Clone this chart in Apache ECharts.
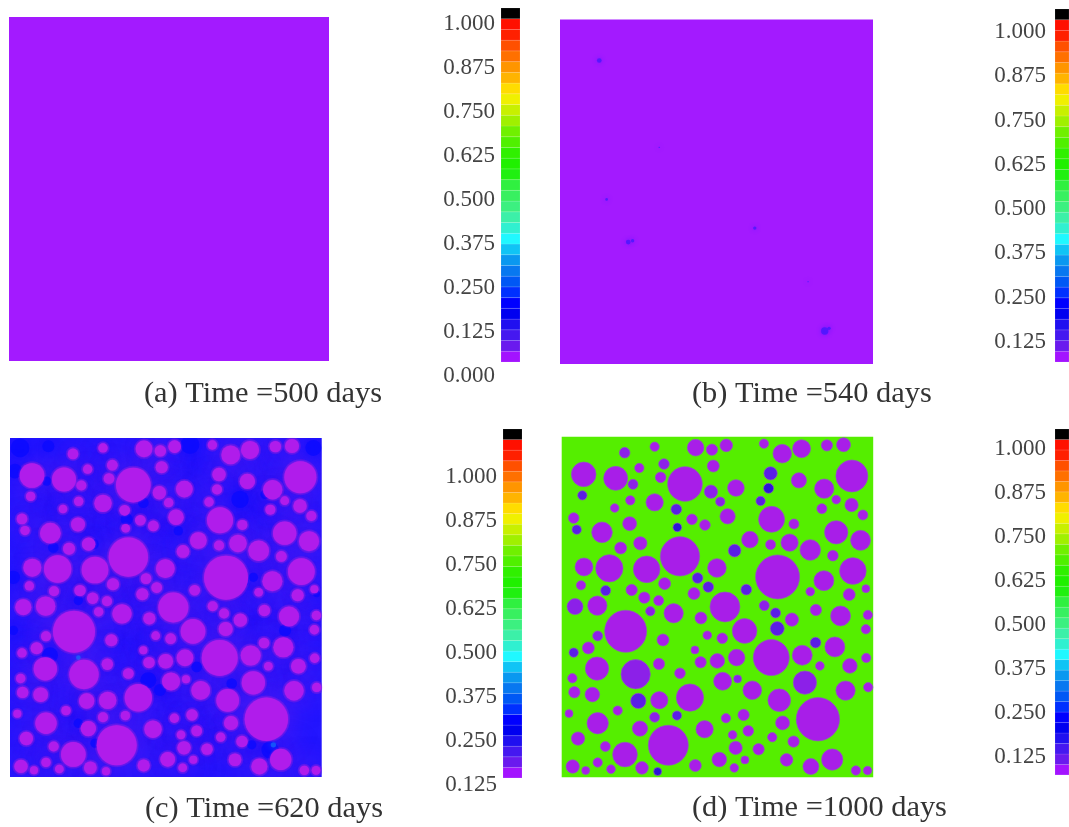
<!DOCTYPE html>
<html><head><meta charset="utf-8">
<style>html,body{margin:0;padding:0;background:#fff}#chart{width:1069px;height:827px;filter:blur(0.6px)}</style>
<script src="https://cdn.jsdelivr.net/npm/echarts@6/dist/echarts.min.js"></script>
</head><body><div id="chart"></div>
<script>
// colour-scale levels, bottom to top
const scaleColors=['#a313ff','#6a1aee','#4518f0','#2010f0','#0000f0','#0000ff','#0030ff','#0058f5','#0878f0','#0a98f0','#10c4f5','#20f8ff','#30f0d0','#3cf0a8','#3cf080','#38f060','#30f040','#20f010','#20f000','#30f000','#50f000','#70f000','#a0f000','#c8f000','#f0f000','#ffdc00','#ffb400','#ff9500','#ff7000','#ff5000','#ff2000','#ff1000','#000000'];
const ticksA=[0,0.125,0.25,0.375,0.5,0.625,0.75,0.875,1];
const ticksB=[0.125,0.25,0.375,0.5,0.625,0.75,0.875,1];
const captions=['(a) Time =500 days','(b) Time =540 days','(c) Time =620 days','(d) Time =1000 days'];
// aggregate particles: x, y, radius, damage shade (0 none .. 3 strong) at 1000 days
const particles=[[314,50,14,0],[224,68,16,1],[437,53,25,0],[486,59,17,0],[529,46,19,0],[642,41,14,0],[697,71,28,0],[755,56,27,0],[831,46,17,0],[881,44,21,0],
[101,133,37,0],[197,145,36,0],[268,114,14,0],[342,102,16,1],[332,142,16,0],[405,162,52,0],[490,108,18,0],[249,163,15,1],[97,196,14,2],[662,130,20,2],[656,175,15,3],[747,151,23,0],[823,176,29,0],[906,138,48,0],[558,174,25,0],[483,185,20,1],[511,215,14,1],[632,213,14,2],[241,211,14,0],[194,234,13,0],[314,217,26,0],[379,238,16,2],[859,209,13,0],[905,225,20,0],[816,236,15,0],[939,255,15,0],
[71,264,16,0],[80,299,14,2],[156,307,31,0],[239,281,21,0],[426,268,16,0],[465,285,16,0],[382,292,13,3],[533,259,23,0],[665,268,39,0],[732,282,15,0],[859,307,35,0],[932,331,30,0],[600,329,25,0],[662,344,15,0],[719,338,26,0],[781,360,31,0],[554,362,19,2],[271,340,20,0],[212,354,18,0],[390,379,59,0],[849,377,16,0],[909,423,40,0],[501,414,28,0],[683,441,66,0],[102,411,27,0],[178,415,41,0],[290,418,40,0],[443,444,16,2],[475,471,16,2],[344,461,18,0],[93,466,14,0],[167,482,15,2],[245,480,17,0],[283,503,17,0],[326,512,15,0],[432,491,18,0],[589,479,16,2],[822,452,30,0],[781,485,13,0],[898,494,18,0],[948,476,12,0],[525,531,45,0],[643,527,15,1],[677,549,15,2],[726,569,20,0],[798,540,17,0],[872,558,30,0],[954,555,14,0],[948,598,14,0],[75,530,24,1],[142,527,29,0],[301,544,14,1],[371,550,29,0],[453,564,18,0],[584,603,37,0],[682,596,21,2],[227,604,63,0],[143,618,15,1],[339,630,18,0],[472,616,13,0],[517,625,16,0],[797,638,16,2],[855,651,30,0],[71,668,14,2],[115,654,18,0],[435,660,12,0],[452,697,17,0],[502,693,22,0],[560,683,25,0],[664,683,54,0],[757,676,30,0],[949,684,14,0],[900,708,22,0],[810,708,13,0],[141,716,35,0],[257,733,44,1],[327,702,17,0],[390,730,16,0],[518,754,27,0],[563,747,12,1],[67,745,14,0],[73,787,17,0],[127,794,22,0],[607,781,28,0],[765,758,35,1],[887,782,29,0],[955,772,14,0],[420,803,41,0],[265,813,23,2],[328,811,26,0],[688,811,34,0],[203,842,14,0],[57,851,12,0],[143,880,32,0],[314,862,15,1],[381,857,14,2],[528,865,14,0],[581,855,17,0],[698,879,21,0],[804,868,65,0],[270,896,23,0],[464,898,26,0],[595,903,16,0],[84,926,20,0],[166,950,15,0],[225,974,37,0],[355,946,60,0],[548,915,13,0],[667,922,14,0],[731,935,17,0],[557,954,20,0],[626,958,17,0],[508,989,22,0],[585,990,12,0],[710,990,19,0],[847,989,32,0],[783,1010,24,0],[68,1010,20,0],[107,1022,12,0],[143,998,14,0],[183,1018,13,0],[276,1014,19,0],[323,1025,12,3],[436,1007,18,0],[553,1014,13,0],[918,1022,14,0],[953,1022,13,0]];
// small damaged spots at 540 days: x, y, radius
const spots540=[[148,151,7],[328,412,2],[170,568,4],[235,696,7],[248,692,5],[615,654,5],[775,815,2],[825,963,11],[838,955,5]];
// lighter spots at 620 days: x, y, radius
const spots620=[[240,682,7],[825,945,8]];
// deeper blue pore-solution patches at 620 days: x, y, radius
const pores620=[[65,50,28],[150,45,18],[575,40,28],[945,50,24],[145,150,14],[45,440,20],[50,120,22],[450,750,24],[730,450,22],[765,440,14],[155,675,24],[240,510,14],[385,265,18],[725,205,26],[800,190,14],[860,600,18],[435,215,16],[285,340,16],[165,350,16],[45,600,14],[595,710,16],[485,780,18],[700,760,16],[815,960,26],[760,945,14],[240,880,14],[290,940,14],[955,490,10],[540,300,14]];

const UNIT=1/3; // pixels per data unit of the specimen axes
const panels=[
 {left:9,top:17,width:320,height:344,xr:[35,1005],yr:[20,1052],bg:'#a31aff'},
 {left:560,top:19.5,width:313,height:344.5,xr:[30,970],yr:[28,1062],bg:'#a31aff'},
 {left:10,top:438,width:311.7,height:339,xr:[35,970],yr:[20,1042],bg:'#2416ff'},
 {left:561.7,top:436.7,width:311.5,height:340.5,xr:[35,970],yr:[20,1042],bg:'#55ee00'}];
const bars=[
 {left:501,width:19,top:8,bottom:376,min:0,max:1.0455,ticks:ticksA,base:0.0398,labelX:6},
 {left:1055,width:15,top:9,bottom:386,min:0,max:1.065,ticks:ticksB,base:0.0678,labelX:9},
 {left:503,width:19,top:429,bottom:785,min:0.125,max:1.1364,ticks:ticksB,base:0.145,labelX:6},
 {left:1055,width:15,top:429,bottom:801,min:0,max:1.0568,ticks:ticksB,base:0.074,labelX:9}];
const capPos=[[144,379],[692,379],[145,794],[692,793]];

const grid=[],xAxis=[],yAxis=[],series=[];
panels.forEach((p,i)=>{
 grid.push({left:p.left,top:p.top,width:p.width,height:p.height,show:true,backgroundColor:p.bg,borderWidth:0});
 xAxis.push({type:'value',gridIndex:i,min:p.xr[0],max:p.xr[1],show:false});
 yAxis.push({type:'value',gridIndex:i,min:p.yr[0],max:p.yr[1],inverse:true,show:false});
});
bars.forEach((b,i)=>{
 const k=i+4;
 grid.push({left:b.left,top:b.top,width:b.width,height:b.bottom-b.top});
 xAxis.push({type:'value',gridIndex:k,min:0,max:1,show:false});
 yAxis.push({type:'value',gridIndex:k,min:b.min,max:b.max,splitLine:{show:false},axisLine:{show:false},axisTick:{show:false},
  axisLabel:{customValues:b.ticks,formatter:v=>v.toFixed(3),margin:b.labelX,fontFamily:'Liberation Serif',fontSize:23,color:'#444'}});
 const step=(b.max-b.base)/scaleColors.length;
 series.push({type:'custom',xAxisIndex:k,yAxisIndex:k,silent:true,
  data:scaleColors.map((c,j)=>[b.base+j*step,b.base+(j+1)*step]),
  encode:{y:[0,1]},
  renderItem(params,api){
   const lo=api.coord([0,api.value(0)]),hi=api.coord([1,api.value(1)]);
   return {type:'rect',shape:{x:lo[0],y:hi[1],width:hi[0]-lo[0],height:lo[1]-hi[1]},
    style:{fill:scaleColors[params.dataIndex],stroke:'rgba(255,255,255,0.18)',lineWidth:0.6}};
  }});
});
const sz=v=>v[2]*2*UNIT;
// soft circle clipped to the panel
const softCircles=(data,extra,style)=>({type:'custom',xAxisIndex:2,yAxisIndex:2,silent:true,data,encode:{x:0,y:1},
 renderItem(params,api){
  const c=api.coord([api.value(0),api.value(1)]),cs=params.coordSys;
  return {type:'circle',shape:{cx:c[0],cy:c[1],r:api.value(2)*UNIT+extra},
   clipPath:{type:'rect',shape:{x:cs.x,y:cs.y,width:cs.width,height:cs.height}},style};
 }});
// panel b spots
series.push({type:'scatter',xAxisIndex:1,yAxisIndex:1,silent:true,data:spots540,symbolSize:sz,
 itemStyle:{color:'#4a18ff',opacity:0.85,shadowBlur:4,shadowColor:'#6a18ff'}});
// panel c: violet halo round each particle, deeper blue patches, then the particle itself
series.push(softCircles(particles,2,{fill:'rgba(110,30,232,0.55)',shadowBlur:26,shadowColor:'rgba(110,30,232,1)'}));
series.push(softCircles(pores620,0,{fill:'rgba(10,10,255,0.75)',shadowBlur:14,shadowColor:'rgba(10,10,255,1)'}));
series.push({type:'scatter',xAxisIndex:2,yAxisIndex:2,silent:true,data:spots620,symbolSize:sz,
 itemStyle:{color:'#1878f8',opacity:0.6,shadowBlur:6,shadowColor:'#1878f8'}});
series.push({type:'scatter',xAxisIndex:2,yAxisIndex:2,silent:true,data:particles,symbolSize:sz,
 itemStyle:{color:'#b01ceb',opacity:1,shadowBlur:2,shadowColor:'#b01ceb'}});
// panel d: particles coloured by their damage shade
const shades=['#a81ee8','#8c20e8','#5a1ee6','#2c14d8'];
series.push({type:'scatter',xAxisIndex:3,yAxisIndex:3,silent:true,data:particles,symbolSize:sz,
 itemStyle:{opacity:1,color:p=>shades[p.value[3]],borderColor:'#8f58c0',borderWidth:0.7}});

const chart=echarts.init(document.getElementById('chart'),null,{renderer:'canvas'});
chart.setOption({animation:false,backgroundColor:'#fff',grid,xAxis,yAxis,series,
 title:captions.map((t,i)=>({text:t,left:capPos[i][0],top:capPos[i][1],padding:0,
  textStyle:{fontFamily:'Liberation Serif',fontSize:30.4,fontWeight:'normal',color:'#333'}}))});
</script></body></html>
